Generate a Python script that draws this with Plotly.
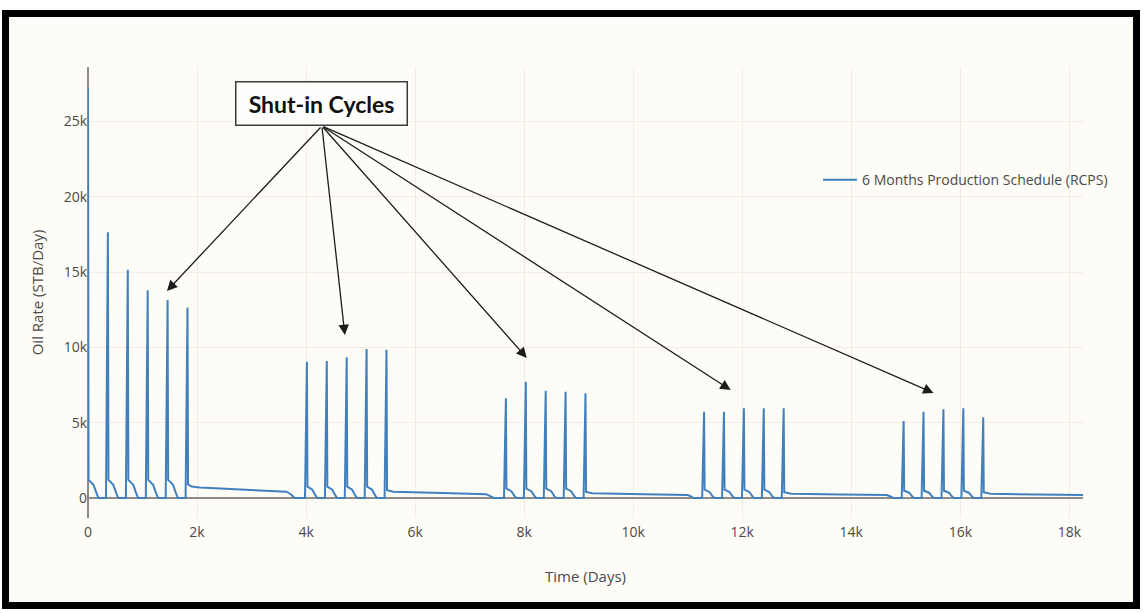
import plotly.graph_objects as go

# ---- data (time in days, oil rate in STB/day) ----
g1_time = [0, 10, 100, 160, 190,
           330, 365, 375, 465, 525, 555,
           695, 730, 740, 830, 890, 920,
           1060, 1095, 1105, 1195, 1255, 1285,
           1425, 1460, 1470, 1560, 1620, 1650,
           1790, 1825, 1835, 1900, 2050, 2900, 3640, 3720, 3790]
g1_rate = [27200, 1200, 870, 250, 0,
           0, 17650, 1200, 870, 250, 0,
           0, 15150, 1200, 870, 250, 0,
           0, 13800, 1200, 870, 250, 0,
           0, 13150, 1200, 870, 250, 0,
           0, 12650, 900, 760, 690, 530, 420, 250, 0]

g2_time = [3980, 4015, 4025, 4115, 4175, 4205,
           4345, 4380, 4390, 4480, 4540, 4570,
           4710, 4745, 4755, 4845, 4905, 4935,
           5075, 5110, 5120, 5210, 5270, 5300,
           5440, 5475, 5485, 5600, 6500, 7300, 7380, 7440]
g2_rate = [0, 9050, 750, 550, 150, 0,
           0, 9100, 750, 550, 150, 0,
           0, 9350, 750, 550, 150, 0,
           0, 9900, 750, 550, 150, 0,
           0, 9850, 520, 420, 330, 250, 120, 0]

g3_time = [7630, 7665, 7675, 7765, 7825, 7855,
           7995, 8030, 8040, 8130, 8190, 8220,
           8360, 8395, 8405, 8495, 8555, 8585,
           8725, 8760, 8770, 8860, 8920, 8950,
           9090, 9125, 9135, 9250, 10200, 11000, 11060, 11100]
g3_rate = [0, 6620, 620, 450, 120, 0,
           0, 7720, 620, 450, 120, 0,
           0, 7120, 620, 450, 120, 0,
           0, 7060, 620, 450, 120, 0,
           0, 6950, 400, 320, 250, 200, 100, 0]

g4_time = [11265, 11300, 11310, 11400, 11460, 11490,
           11630, 11665, 11675, 11765, 11825, 11855,
           11995, 12030, 12040, 12130, 12190, 12220,
           12360, 12395, 12405, 12495, 12555, 12585,
           12725, 12760, 12770, 12900, 13800, 14650, 14720, 14770]
g4_rate = [0, 5730, 550, 400, 100, 0,
           0, 5730, 550, 400, 100, 0,
           0, 5960, 550, 400, 100, 0,
           0, 5960, 550, 400, 100, 0,
           0, 5960, 380, 280, 230, 200, 100, 0]

g5_time = [14925, 14960, 14970, 15060, 15120, 15150,
           15290, 15325, 15335, 15425, 15485, 15515,
           15655, 15690, 15700, 15790, 15850, 15880,
           16020, 16055, 16065, 16155, 16215, 16245,
           16385, 16420, 16430, 16550, 17400, 18250]
g5_rate = [0, 5110, 480, 350, 90, 0,
           0, 5730, 480, 350, 90, 0,
           0, 5890, 480, 350, 90, 0,
           0, 5960, 480, 350, 90, 0,
           0, 5360, 380, 280, 230, 200]

time_days = g1_time + g2_time + g3_time + g4_time + g5_time
oil_rate = g1_rate + g2_rate + g3_rate + g4_rate + g5_rate

series_name = "6 Months Production Schedule (RCPS)"
x_ticks = [0, 2000, 4000, 6000, 8000, 10000, 12000, 14000, 16000, 18000]
x_tick_labels = ["0", "2k", "4k", "6k", "8k", "10k", "12k", "14k", "16k", "18k"]
y_ticks = [0, 5000, 10000, 15000, 20000, 25000]
y_tick_labels = ["0", "5k", "10k", "15k", "20k", "25k"]

callout_text = "Shut-in Cycles"
arrow_tail = (4290, 24700)
arrow_heads = [(1448, 13750), (4711, 10820), (8048, 9300), (11787, 7170), (15508, 6970)]

# ---- figure ----
BG = "#fdfcf6"
GRID = "#f4ebe4"
AXC = "#8f8b86"
TXT = "#4a4a4a"

fig = go.Figure()
fig.add_trace(go.Scatter(
    x=time_days, y=oil_rate, mode="lines", name=series_name,
    line=dict(color="#4180bd", width=2), showlegend=True,
))

fig.update_layout(
    width=1144, height=613,
    margin=dict(l=88, r=61, t=67, b=95, autoexpand=False),
    paper_bgcolor="white",
    plot_bgcolor="rgba(0,0,0,0)",
    font=dict(family="Open Sans, sans-serif", size=14, color=TXT),
    showlegend=True,
    legend=dict(x=0.7337, y=0.749, xanchor="left", yanchor="middle",
                itemwidth=34,
                bgcolor="rgba(0,0,0,0)", font=dict(size=14, color=TXT)),
    xaxis=dict(range=[0, 18250], tickvals=x_ticks, ticktext=x_tick_labels,
               showgrid=True, gridcolor=GRID, gridwidth=1,
               zeroline=True, zerolinecolor=AXC, zerolinewidth=2,
               showline=False, ticks="outside", ticklen=1, tickcolor="rgba(0,0,0,0)",
               title=dict(text="Time (Days)", font=dict(size=15, color=TXT), standoff=31)),
    yaxis=dict(range=[-1330, 28620], tickvals=y_ticks, ticktext=y_tick_labels,
               showgrid=True, gridcolor=GRID, gridwidth=1,
               zeroline=True, zerolinecolor=AXC, zerolinewidth=2,
               showline=False, ticks="",
               title=dict(text="Oil Rate (STB/Day)", font=dict(size=15, color=TXT), standoff=16)),
)

# black frame with cream fill (paper coordinates relative to plot area)
fig.add_shape(type="rect", xref="paper", yref="paper",
              x0=-0.0829, x1=1.0538, y0=-0.194, y1=1.1186,
              line=dict(color="black", width=7), fillcolor=BG, layer="below")

# arrows
for hx, hy in arrow_heads:
    fig.add_annotation(x=hx, y=hy, xref="x", yref="y",
                       ax=arrow_tail[0], ay=arrow_tail[1], axref="x", ayref="y",
                       text="", showarrow=True, arrowhead=2, arrowsize=1.6,
                       arrowwidth=1.3, arrowcolor="#1c1c1c", standoff=0, startstandoff=0)

# callout box
fig.add_annotation(x=0.2347, y=0.918, xref="paper", yref="paper",
                   xanchor="center", yanchor="middle", showarrow=False,
                   text="<b>" + callout_text + "</b>",
                   font=dict(family="Lato, sans-serif", size=23, color="#111111"),
                   bgcolor="#fdfdfb", bordercolor="#3a3a3a", borderwidth=1.5,
                   width=170, height=42, borderpad=0)

fig.write_html("out.html", config={"displayModeBar": False},
               post_script="document.body.style.margin='0px';")
